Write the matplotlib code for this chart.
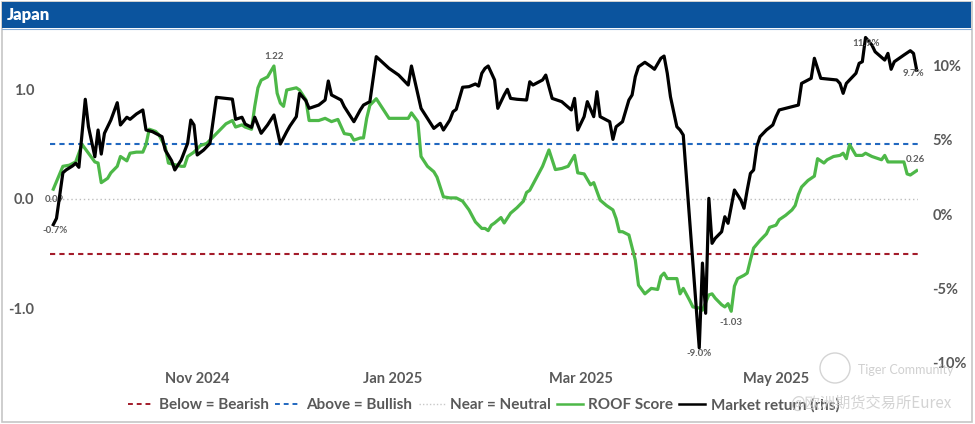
import numpy as np
import pandas as pd
import matplotlib
matplotlib.use("Agg")
import matplotlib.pyplot as plt
import matplotlib.dates as mdates
from matplotlib.lines import Line2D
from matplotlib.patches import Rectangle, Ellipse

plt.rcParams['font.family'] = ['Lato', 'DejaVu Sans']

start_date = '2024-09-17'

market_days = [0, 1, 3, 4, 6, 7, 8, 10, 11, 13,
               14, 15, 16, 18, 20, 21, 23, 24, 26, 28,
               29, 31, 33, 34, 35, 37, 38, 40, 42, 43,
               44, 45, 47, 49, 51, 54, 56, 57, 59, 60,
               62, 63, 65, 67, 69, 70, 71, 73, 74, 76,
               77, 79, 80, 83, 85, 86, 87, 90, 91, 94,
               96, 97, 99, 101, 105, 108, 111, 112, 113, 115,
               117, 119, 121, 122, 124, 125, 126, 127, 128, 130,
               132, 133, 134, 135, 136, 138, 139, 141, 142, 143,
               145, 148, 149, 150, 153, 154, 156, 159, 162, 163,
               164, 166, 167, 169, 170, 171, 174, 175, 176, 178,
               180, 181, 182, 183, 185, 187, 188, 190, 191, 192,
               193, 195, 196, 197, 202, 203, 204, 205, 206, 207,
               209, 210, 211, 213, 215, 216, 217, 218, 219, 220,
               221, 223, 225, 226, 227, 229, 233, 234, 236, 237,
               238, 240, 245, 246, 247, 248, 250, 251, 252, 253,
               254, 256, 257, 260, 261, 262, 263, 266, 268, 269,
               270]
market_ret = [-0.7, -0.28, 2.79, 2.98, 3.25, 3.43, 3.16, 7.74, 5.89, 3.87,
              5.67, 4.05, 5.45, 6.34, 7.51, 6.01, 6.53, 6.39, 6.75, 7.02,
              5.67, 5.56, 5.33, 5.22, 4.32, 3.60, 2.98, 3.65, 4.77, 6.34,
              6.01, 3.99, 4.32, 4.77, 7.87, 7.80, 7.75, 6.39, 6.53, 6.07,
              5.85, 6.53, 5.45, 6.01, 6.68, 5.72, 4.73, 5.56, 5.94, 6.57,
              8.14, 7.64, 7.13, 7.35, 7.69, 8.97, 8.03, 7.69, 7.24, 6.23,
              7.02, 7.35, 7.58, 10.61, 9.82, 9.37, 8.70, 9.98, 9.04, 7.13,
              6.46, 5.78, 6.12, 5.67, 6.34, 6.90, 7.06, 7.80, 8.55, 8.59,
              8.77, 8.63, 9.49, 9.82, 9.98, 9.04, 7.13, 8.03, 8.41, 7.80,
              7.74, 7.69, 8.92, 8.70, 9.04, 9.37, 7.80, 7.58, 7.02, 7.80,
              5.67, 6.57, 7.58, 6.57, 8.25, 6.57, 6.23, 5.04, 5.89, 6.23,
              7.69, 8.03, 9.26, 9.93, 10.23, 9.93, 9.76, 10.50, 10.65, 9.49,
              7.91, 5.89, 5.67, 5.33, -9.0, -3.29, -6.67, 1.07, -1.96, -1.62,
              -1.18, -0.17, -0.61, 1.63, 0.96, 0.40, 1.63, 2.75, 2.98, 4.55,
              5.22, 5.67, 6.01, 6.57, 7.02, 7.13, 7.35, 8.81, 9.04, 9.15,
              10.50, 9.15, 9.04, 8.81, 8.14, 8.81, 9.26, 9.49, 10.16, 10.27,
              11.9, 11.39, 10.94, 10.38, 10.83, 9.76, 10.27, 10.72, 11.01, 10.83,
              9.7]

roof_days = [0, 3, 5, 7, 9, 11, 13, 14, 15, 17,
             18, 20, 21, 23, 24, 26, 28, 29, 30, 32,
             33, 35, 36, 40, 41, 42, 44, 46, 48, 49,
             51, 53, 54, 56, 57, 59, 60, 62, 63, 64,
             65, 67, 69, 70, 71, 72, 73, 76, 77, 79,
             80, 83, 85, 87, 89, 91, 93, 94, 96, 97,
             98, 99, 101, 103, 105, 111, 112, 114, 115, 117,
             119, 120, 122, 124, 126, 128, 130, 132, 134, 135,
             136, 137, 138, 140, 141, 143, 145, 147, 148, 149,
             151, 153, 155, 157, 159, 161, 163, 164, 166, 168,
             169, 171, 173, 175, 176, 177, 178, 180, 182, 183,
             185, 187, 189, 190, 191, 192, 195, 196, 197, 199,
             200, 202, 203, 205, 206, 207, 209, 210, 211, 212,
             213, 214, 216, 217, 218, 219, 221, 223, 224, 226,
             227, 229, 231, 232, 233, 234, 236, 238, 239, 241,
             242, 244, 246, 247, 248, 249, 250, 251, 253, 254,
             256, 259, 260, 261, 263, 266, 267, 268, 270]
roof_score = [0.09, 0.30, 0.31, 0.34, 0.50, 0.42, 0.34, 0.33, 0.15, 0.19,
              0.24, 0.30, 0.39, 0.35, 0.42, 0.43, 0.43, 0.50, 0.64, 0.62,
              0.59, 0.48, 0.33, 0.30, 0.30, 0.39, 0.43, 0.49, 0.51, 0.54,
              0.60, 0.66, 0.69, 0.72, 0.66, 0.68, 0.66, 0.64, 0.85, 1.02,
              1.09, 1.12, 1.22, 0.97, 0.88, 0.85, 1.00, 1.02, 1.00, 0.91,
              0.72, 0.72, 0.74, 0.71, 0.73, 0.60, 0.59, 0.54, 0.56, 0.56,
              0.74, 0.86, 0.92, 0.83, 0.74, 0.74, 0.79, 0.71, 0.39, 0.30,
              0.25, 0.20, 0.02, 0.01, 0.01, -0.02, -0.10, -0.21, -0.27, -0.27,
              -0.29, -0.24, -0.22, -0.17, -0.22, -0.13, -0.08, -0.02, 0.06, 0.08,
              0.19, 0.30, 0.45, 0.27, 0.28, 0.30, 0.40, 0.24, 0.23, 0.13,
              0.15, -0.01, -0.06, -0.10, -0.18, -0.30, -0.30, -0.33, -0.56, -0.79,
              -0.87, -0.82, -0.83, -0.71, -0.68, -0.73, -0.73, -0.87, -0.82, -0.93,
              -0.99, -1.00, -1.02, -0.88, -0.87, -0.91, -0.97, -0.99, -0.96, -1.03,
              -0.80, -0.73, -0.70, -0.68, -0.56, -0.45, -0.38, -0.32, -0.26, -0.24,
              -0.19, -0.15, -0.10, -0.06, 0.04, 0.11, 0.17, 0.21, 0.37, 0.33,
              0.36, 0.39, 0.40, 0.42, 0.37, 0.50, 0.45, 0.40, 0.40, 0.42,
              0.39, 0.36, 0.40, 0.34, 0.34, 0.34, 0.23, 0.22, 0.26]

bullish_level = 0.5
bearish_level = -0.5
neutral_level = 0.0

start = pd.Timestamp(start_date)
m_dates = start + pd.to_timedelta(market_days, unit='D')
r_dates = start + pd.to_timedelta(roof_days, unit='D')

W, H = 975, 424
fig = plt.figure(figsize=(W / 100, H / 100), dpi=100, facecolor='white')

def fx(px):
    return px / W

def fy(py):
    return 1 - py / H

# card frame and title bar
fig.patches.append(Rectangle((fx(1.5), fy(421.5)), fx(970), 420 / H, transform=fig.transFigure,
                             facecolor='none', edgecolor='#c6c6c6', lw=1.2, zorder=0))
fig.patches.append(Rectangle((fx(2), fy(28)), fx(969), 26 / H, transform=fig.transFigure,
                             facecolor='#0b549e', edgecolor='none', zorder=1))
fig.lines.append(Line2D([fx(2), fx(971)], [fy(28.5), fy(28.5)], transform=fig.transFigure,
                        color='#8cb0d8', lw=0.8))
fig.text(fx(7), fy(15), 'Japan', color='white', fontsize=12, fontweight='heavy', va='center', ha='left')

ax = fig.add_axes([fx(50), fy(366), fx(868.3), 334 / H])
ax2 = ax.twinx()
ax.set_zorder(2)
ax2.set_zorder(3)

grey = '#595959'
ax.axhline(bullish_level, color='#2168c0', lw=1.5, ls=(0, (2.5, 2)), zorder=1)
ax.axhline(bearish_level, color='#a31b2a', lw=1.5, ls=(0, (2.5, 2)), zorder=1)
ax.axhline(neutral_level, color='#bdbdbd', lw=1.0, ls=(0, (1, 2)), zorder=1)
ax.plot(r_dates, roof_score, color='#4db848', lw=2.3, zorder=2, solid_joinstyle='round')
ax2.plot(m_dates, market_ret, color='black', lw=2.3, zorder=3, solid_joinstyle='round')

ax.set_ylim(-1.532, 1.532)
ax2.set_ylim(-10.22, 12.27)
ax.set_xlim(start - pd.Timedelta(days=1.03), start + pd.Timedelta(days=270.5))

ax.set_yticks([-1, 0, 1])
ax.set_yticklabels(['-1.0', '0.0', '1.0'])
ax2.set_yticks([-10, -5, 0, 5, 10])
ax2.set_yticklabels(['-10%', '-5%', '0%', '5%', '10%'])
ax.xaxis.set_major_locator(mdates.MonthLocator(bymonth=[11, 1, 3, 5]))
ax.xaxis.set_major_formatter(mdates.DateFormatter('%b %Y'))

for a in (ax, ax2):
    for s in a.spines.values():
        s.set_visible(False)
    a.tick_params(length=0, colors=grey, labelsize=10.5)
    for lab in a.get_xticklabels() + a.get_yticklabels():
        lab.set_fontweight('bold')
    a.patch.set_alpha(0)
ax.tick_params(axis='y', pad=11.5)
ax2.tick_params(axis='y', pad=10)
ax.tick_params(axis='x', pad=4)

# data labels
lab_kw = dict(textcoords='offset points', ha='center', va='center', fontsize=7,
              color='#5f5f5f', fontweight='bold', zorder=5)
i_max = int(np.argmax(roof_score))
i_min = int(np.argmin(roof_score))
ax.annotate(f'{roof_score[i_max]:.2f}', (r_dates[i_max], roof_score[i_max]), xytext=(0, 7), **lab_kw)
ax.annotate(f'{roof_score[0]:.2f}', (r_dates[0], roof_score[0]), xytext=(0.5, -7.5), **lab_kw)
ax.annotate(f'{roof_score[i_min]:.2f}', (r_dates[i_min], roof_score[i_min]), xytext=(0, -8), **lab_kw)
ax.annotate(f'{roof_score[-1]:.2f}', (r_dates[-1], roof_score[-1]), xytext=(-1.2, 8), **lab_kw)
j_max = int(np.argmax(market_ret))
j_min = int(np.argmin(market_ret))
ax2.annotate(f'{market_ret[0]:.1f}%', (m_dates[0], market_ret[0]), xytext=(1.5, -4), **lab_kw)
ax2.annotate(f'{market_ret[j_min]:.1f}%', (m_dates[j_min], market_ret[j_min]), xytext=(0, -4), **lab_kw)
ax2.annotate(f'{market_ret[j_max]:.1f}%', (m_dates[j_max], market_ret[j_max]), xytext=(0.5, -4), **lab_kw)
ax2.annotate(f'{market_ret[-1]:.1f}%', (m_dates[-1], market_ret[-1]), xytext=(-2.4, -2.5), **lab_kw)

# legend
handles = [
    Line2D([], [], color='#a31b2a', lw=1.4, ls=(0, (2.5, 2))),
    Line2D([], [], color='#2168c0', lw=1.4, ls=(0, (2.5, 2))),
    Line2D([], [], color='#c8c8c8', lw=1.0, ls=(0, (1, 1.5))),
    Line2D([], [], color='#4db848', lw=1.8),
    Line2D([], [], color='black', lw=1.8),
]
labels = ['Below = Bearish', 'Above = Bullish', 'Near = Neutral', 'ROOF Score', 'Market return (rhs)']
leg = fig.legend(handles, labels, loc='center', bbox_to_anchor=(fx(483.5), fy(405)), ncol=5,
                 frameon=False, handlelength=1.7, handletextpad=0.35, columnspacing=0.4,
                 prop={'size': 11, 'weight': 'bold'})
for t in leg.get_texts():
    t.set_color(grey)

# watermark
fig.patches.append(Ellipse((fx(835), fy(368)), 30 / W, 30 / H, transform=fig.transFigure, fill=False,
                           edgecolor='#d4d4d4', lw=1.0, zorder=10))
fig.text(fx(858), fy(370), 'Tiger Community', color='#d0d0d0', fontsize=9, va='center', ha='left', zorder=10)
fig.text(fx(790), fy(403), '@欧洲期货交易所Eurex', color='#cccccc', alpha=0.85, fontsize=11,
         va='center', ha='left', family=['Noto Sans CJK SC', 'DejaVu Sans'], zorder=10)

fig.savefig('out.png', dpi=100)
